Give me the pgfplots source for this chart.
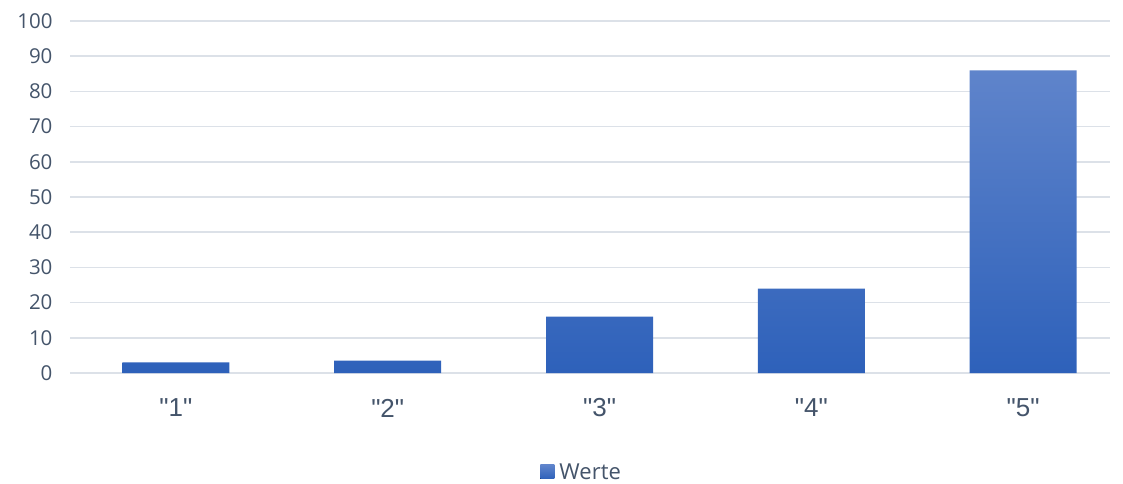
\documentclass[border=0pt]{standalone}
\usepackage{pgfplots}
\pgfplotsset{compat=1.18}
\usepackage{fontspec}
\setmainfont{Open Sans}
\newfontfamily\arialfont{Liberation Sans}
\definecolor{txt}{HTML}{44546A}
\definecolor{gridc}{HTML}{DCE1E8}
\definecolor{bartop}{HTML}{5F84CB}
\definecolor{barbot}{HTML}{2E61BA}
\begin{document}
\begin{tikzpicture}
\useasboundingbox (-70pt,-110pt) rectangle (1053pt,373pt);
\begin{axis}[
  scale only axis,
  width=1040pt, height=352pt,
  xmin=-0.5, xmax=4.41,
  ymin=0, ymax=100,
  ytick={0,10,...,100},
  xtick={0,1,2,3,4},
  xticklabels={"1","2","3","4","5"},
  axis line style={draw=none},
  major tick length=0pt,
  ymajorgrids,
  grid style={gridc, line width=1.6pt},
  ybar,
  bar width=107pt,
  tick label style={text=txt},
  yticklabel style={font=\fontsize{20.5}{24}\selectfont, xshift=-14pt},
  xticklabel style={font=\arialfont\fontsize{26}{30}\selectfont, anchor=center, yshift=-35pt},
  /pgf/number format/assume math mode=true,
  legend style={at={(0.492,-0.281)}, anchor=center, draw=none, font=\fontsize{22}{26}\selectfont, text=txt,
    /tikz/every odd column/.append style={column sep=3pt}},
  legend image code/.code={\fill[top color=bartop, bottom color=barbot] (0pt,-7pt) rectangle (14pt,7pt);},
]
\addplot[draw=none, top color=bartop, bottom color=barbot] coordinates {(0,3) (1,3.5) (2,16) (3,24) (4,86)};
\addlegendentry{Werte}
\end{axis}
\end{tikzpicture}
\end{document}
